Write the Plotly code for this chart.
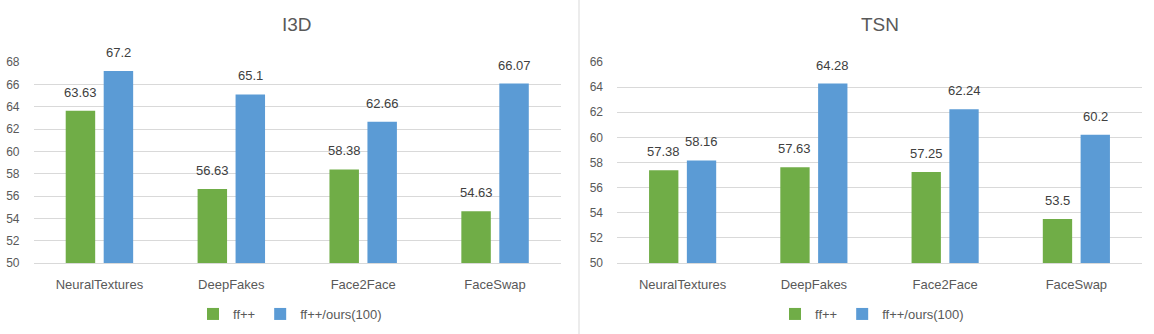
import plotly.graph_objects as go
from plotly.subplots import make_subplots

categories = ["NeuralTextures", "DeepFakes", "Face2Face", "FaceSwap"]
series_names = ["ff++", "ff++/ours(100)"]
i3d_ff = [63.63, 56.63, 58.38, 54.63]
i3d_ours = [67.2, 65.1, 62.66, 66.07]
tsn_ff = [57.38, 57.63, 57.25, 53.5]
tsn_ours = [58.16, 64.28, 62.24, 60.2]
panel_titles = ["I3D", "TSN"]
i3d_ticks = [50, 52, 54, 56, 58, 60, 62, 64, 66, 68]
tsn_ticks = [50, 52, 54, 56, 58, 60, 62, 64, 66]

W, H = 1154, 334
GREEN = "#70AD47"
BLUE = "#5B9BD5"
TXT = "#595959"
LBL = "#404040"
GRID = "#D9D9D9"
FONT = "Liberation Sans, Arial, sans-serif"
BARGAP = 0.424
GROUPGAP = 0.224

# pixel layout of the two plot areas
x_dom = [(33.5 / W, 561 / W), (617 / W, 1142 / W)]
y_dom = ((H - 263) / H, (H - 62) / H)

fig = make_subplots(rows=1, cols=2)
panels = [(i3d_ff, i3d_ours, i3d_ticks), (tsn_ff, tsn_ours, tsn_ticks)]
colors = [GREEN, BLUE]

annotations = []
for p, (ff, ours, ticks) in enumerate(panels):
    col = p + 1
    legend_name = "legend" if p == 0 else "legend2"
    for s, vals in enumerate([ff, ours]):
        fig.add_trace(
            go.Bar(
                x=categories, y=vals, name=series_names[s],
                marker=dict(color=colors[s], line=dict(width=0)),
                legend=legend_name, hoverinfo="x+y",
            ),
            row=1, col=col,
        )
    # value labels above each bar
    cat_px = (x_dom[p][1] - x_dom[p][0]) * W / len(categories)
    half_slot = cat_px * (1 - BARGAP) / 4
    xref = "x" if p == 0 else "x2"
    yref = "y" if p == 0 else "y2"
    for s, vals in enumerate([ff, ours]):
        for c, v in zip(categories, vals):
            annotations.append(dict(
                x=c, y=v, xref=xref, yref=yref, text=f"{v:g}",
                showarrow=False, xanchor="center", yanchor="middle",
                xshift=(-half_slot if s == 0 else half_slot), yshift=18.5,
                font=dict(family=FONT, size=13, color=LBL),
            ))
    # panel title
    annotations.append(dict(
        x=(x_dom[p][0] + x_dom[p][1]) / 2, y=1 - 25 / H, xref="paper", yref="paper",
        text=panel_titles[p], showarrow=False, xanchor="center", yanchor="middle",
        font=dict(family=FONT, size=19, color=TXT),
    ))
    fig.update_xaxes(
        domain=list(x_dom[p]), showgrid=False, showline=True, linecolor=GRID,
        linewidth=1, ticks="", ticklabelstandoff=9, automargin=False,
        tickfont=dict(family=FONT, size=13, color=TXT), row=1, col=col,
    )
    fig.update_yaxes(
        domain=list(y_dom), range=[ticks[0], ticks[-1]], tickvals=ticks,
        showgrid=True, gridcolor=GRID, gridwidth=1, zeroline=False,
        showline=False, ticks="", ticklabelstandoff=13, automargin=False,
        tickfont=dict(family=FONT, size=12, color=TXT), row=1, col=col,
    )

legend_common = dict(
    orientation="h", xanchor="center", yanchor="middle", y=1 - 314 / H,
    font=dict(family=FONT, size=13, color=TXT), bgcolor="rgba(0,0,0,0)",
    traceorder="normal", itemclick=False, itemdoubleclick=False,
)

fig.update_layout(
    width=W, height=H, margin=dict(l=0, r=0, t=0, b=0, autoexpand=False),
    paper_bgcolor="white", plot_bgcolor="white",
    barmode="group", bargap=BARGAP, bargroupgap=GROUPGAP,
    showlegend=True,
    legend=dict(x=290 / W, **legend_common),
    legend2=dict(x=872 / W, **legend_common),
    annotations=annotations,
    shapes=[dict(type="line", xref="paper", yref="paper", x0=579 / W, x1=579 / W,
                 y0=0, y1=1, line=dict(color=GRID, width=1))],
)

fig.write_html("out.html")
